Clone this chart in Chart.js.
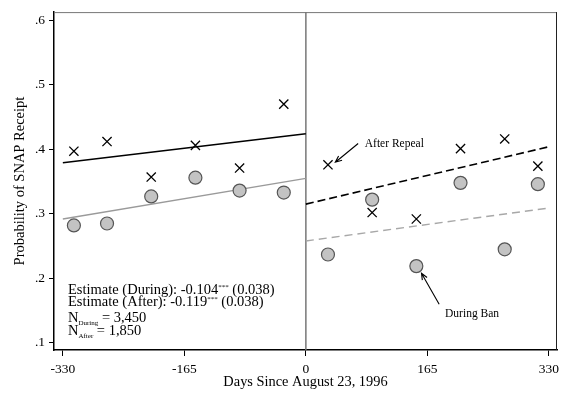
<!DOCTYPE html>
<html>
<head>
<meta charset="utf-8">
<script src="https://cdn.jsdelivr.net/npm/chart.js@4.4.1/dist/chart.umd.min.js"></script>
<style>
html, body { margin: 0; padding: 0; background: #fff; }
#wrap { width: 573px; height: 396px; }
</style>
</head>
<body>
<div id="wrap"><canvas id="c"></canvas></div>
<script>
// データ
const days = [-315, -270, -210, -150, -90, -30, 30, 90, 150, 210, 270, 315];
const afterRepeal = [0.397, 0.412, 0.357, 0.406, 0.371, 0.470, 0.376, 0.302, 0.292, 0.401, 0.416, 0.374];
const duringBan = [0.282, 0.285, 0.327, 0.356, 0.336, 0.333, 0.237, 0.322, 0.219, 0.348, 0.245, 0.346];

// 回帰直線（左右）
const fitDaysLeft = [-330, 0];
const fitDaysRight = [0, 330];
const fitAfterLeft = [0.379, 0.424];
const fitDuringLeft = [0.292, 0.355];
const fitAfterRight = [0.315, 0.404];
const fitDuringRight = [0.258, 0.309];

// 軸
const xTicks = [-330, -165, 0, 165, 330];
const yTicks = [0.1, 0.2, 0.3, 0.4, 0.5, 0.6];
const xMin = -342, xMax = 341;
const yMin = 0.089, yMax = 0.6126;

// 注記テキスト
const estDuring = ['Estimate (During): -0.104', '***', ' (0.038)'];
const estAfter = ['Estimate (After): -0.119', '***', ' (0.038)'];
const nDuring = ['N', 'During', ' = 3,450'];
const nAfter = ['N', 'After', ' = 1,850'];

const SERIF = '"Liberation Serif", "DejaVu Serif", serif';

const toPts = (xs, ys) => xs.map((x, i) => ({ x: x, y: ys[i] }));

const lineSet = (xs, ys, color, width, dash) => ({
    type: 'line',
    data: toPts(xs, ys),
    borderColor: color,
    borderWidth: width,
    borderDash: dash || [],
    pointRadius: 0,
    fill: false,
    order: 5
});

// 注記・枠線の描画
const annotate = {
    id: 'annotate',
    afterDatasetsDraw(chart) {
        const { ctx, chartArea: a, scales: { x, y } } = chart;
        ctx.save();

        // 上・右の枠
        ctx.lineWidth = 1;
        ctx.strokeStyle = '#777';
        ctx.beginPath();
        ctx.moveTo(a.left, a.top + 0.5);
        ctx.lineTo(a.right, a.top + 0.5);
        ctx.stroke();
        ctx.strokeStyle = '#222';
        ctx.beginPath();
        ctx.moveTo(a.right - 0.5, a.top);
        ctx.lineTo(a.right - 0.5, a.bottom);
        ctx.stroke();

        // 矢印
        const arrow = (x0, y0, x1, y1) => {
            const px0 = x.getPixelForValue(x0), py0 = y.getPixelForValue(y0);
            const px1 = x.getPixelForValue(x1), py1 = y.getPixelForValue(y1);
            ctx.strokeStyle = '#000';
            ctx.lineWidth = 1.1;
            ctx.beginPath();
            ctx.moveTo(px0, py0);
            ctx.lineTo(px1, py1);
            const ang = Math.atan2(py1 - py0, px1 - px0);
            ctx.moveTo(px1 - 7 * Math.cos(ang - 0.4), py1 - 7 * Math.sin(ang - 0.4));
            ctx.lineTo(px1, py1);
            ctx.lineTo(px1 - 7 * Math.cos(ang + 0.4), py1 - 7 * Math.sin(ang + 0.4));
            ctx.stroke();
        };
        arrow(71, 0.409, 40, 0.380);
        arrow(181, 0.160, 157, 0.208);

        ctx.fillStyle = '#000';
        ctx.textBaseline = 'middle';
        ctx.textAlign = 'left';
        ctx.font = '11.5px ' + SERIF;
        ctx.fillText('After Repeal', x.getPixelForValue(80), y.getPixelForValue(0.408));
        ctx.fillText('During Ban', x.getPixelForValue(189), y.getPixelForValue(0.145));

        // 推定値テキスト（上付き・下付き）
        const left = a.left + 14;
        const big = '14.5px ' + SERIF, small = '7px ' + SERIF;
        const drawParts = (parts, cy, sub) => {
            let px = left;
            ctx.font = big;
            ctx.fillText(parts[0], px, cy);
            px += ctx.measureText(parts[0]).width;
            ctx.font = small;
            ctx.fillText(parts[1], px, sub ? cy + 5 : cy - 3);
            px += ctx.measureText(parts[1]).width;
            ctx.font = big;
            ctx.fillText(parts[2], px, cy);
        };
        drawParts(estDuring, 290, false);
        drawParts(estAfter, 302, false);
        drawParts(nDuring, 318, true);
        drawParts(nAfter, 331, true);

        ctx.restore();
    }
};

new Chart(document.getElementById('c'), {
    type: 'scatter',
    data: {
        datasets: [
            {
                type: 'line',
                data: [{ x: 0, y: yMin }, { x: 0, y: yMax }],
                borderColor: '#777',
                borderWidth: 1.5,
                pointRadius: 0,
                order: 6
            },
            lineSet(fitDaysLeft, fitDuringLeft, '#9a9a9a', 1.3),
            lineSet(fitDaysRight, fitDuringRight, '#a8a8a8', 1.4, [8, 5]),
            lineSet(fitDaysLeft, fitAfterLeft, '#000', 1.5),
            lineSet(fitDaysRight, fitAfterRight, '#000', 1.6, [8, 4]),
            {
                label: 'During Ban',
                data: toPts(days, duringBan),
                pointStyle: 'circle',
                pointRadius: 6.5,
                pointBackgroundColor: '#c3c3c3',
                pointBorderColor: '#555',
                pointBorderWidth: 1.2,
                order: 2
            },
            {
                label: 'After Repeal',
                data: toPts(days, afterRepeal),
                pointStyle: 'crossRot',
                pointRadius: 6.5,
                pointBorderColor: '#000',
                pointBorderWidth: 1.3,
                order: 1
            }
        ]
    },
    options: {
        responsive: true,
        maintainAspectRatio: false,
        animation: false,
        layout: { padding: { top: 5, right: 16, left: 0, bottom: 0 } },
        plugins: {
            legend: { display: false },
            tooltip: { enabled: false }
        },
        scales: {
            x: {
                type: 'linear',
                min: xMin,
                max: xMax,
                afterFit: (s) => { s.height = 46; },
                afterBuildTicks: (s) => { s.ticks = xTicks.map(v => ({ value: v })); },
                ticks: {
                    color: '#000',
                    padding: 5,
                    maxRotation: 0,
                    font: { family: SERIF, size: 13.5 },
                    callback: (v) => String(v)
                },
                grid: { drawOnChartArea: false, tickLength: 6, color: '#000' },
                border: { color: '#000', width: 1.5 },
                title: {
                    display: true,
                    text: 'Days Since August 23, 1996',
                    color: '#000',
                    font: { family: SERIF, size: 14.4 },
                    padding: { top: 0, bottom: 5 }
                }
            },
            y: {
                type: 'linear',
                min: yMin,
                max: yMax,
                afterFit: (s) => { s.width = 54; },
                afterBuildTicks: (s) => { s.ticks = yTicks.map(v => ({ value: v })); },
                ticks: {
                    color: '#000',
                    padding: 4,
                    font: { family: SERIF, size: 13.5 },
                    callback: (v) => String(v).replace(/^0/, '')
                },
                grid: { drawOnChartArea: false, tickLength: 5, color: '#000' },
                border: { color: '#000', width: 1.5 },
                title: {
                    display: true,
                    text: 'Probability of SNAP Receipt',
                    color: '#000',
                    font: { family: SERIF, size: 14.5 },
                    padding: { top: 11, bottom: 0 }
                }
            }
        }
    },
    plugins: [annotate]
});
</script>
</body>
</html>
